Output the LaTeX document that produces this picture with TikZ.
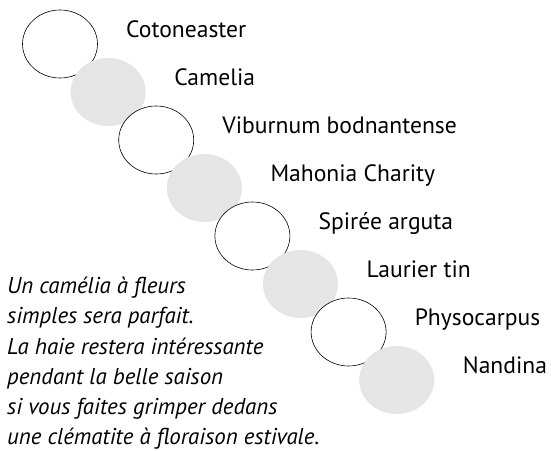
\documentclass[tikz,border=0pt]{standalone}
\usepackage{fontspec}
\setmainfont{PT Sans}
\usetikzlibrary{positioning}
\tikzset{
  haie/.style={draw=black, line width=0.6pt, fill=white},
  haiegris/.style={fill=gray!20},
  plante/.style={font=\fontsize{23.6}{28}\selectfont, inner sep=0pt, anchor=base west},
  conseil/.style={font=\itshape\fontsize{22.9}{30.2}\selectfont, align=left, inner sep=0pt, anchor=north west}
}
\begin{document}
\begin{tikzpicture}[x=1pt,y=-1pt]
\useasboundingbox (0,0) rectangle (551,450);
%\draw [help lines, step=10pt](0,0) grid (551,450);
\foreach \i/\nom in {0/Cotoneaster,1/Camelia,2/Viburnum bodnantense,3/Mahonia Charity,
  4/Spirée arguta,5/Laurier tin,6/Physocarpus,7/Nandina}{
  \pgfmathsetmacro\cx{60+48.1*\i}
  \pgfmathsetmacro\cy{44+48*\i}
  \ifodd\i
    \fill [haiegris] (\cx,\cy) ellipse [x radius=37.5pt, y radius=34pt];
  \else
    \draw [haie] (\cx,\cy) ellipse [x radius=37.5pt, y radius=34pt];
  \fi
  \node [plante] (plante\i) at (\cx+66,\cy-7) {\nom};
}
\node [conseil] (texte) at (7,277) {Un camélia à fleurs\\
simples sera parfait.\\
La haie restera intéressante\\
pendant la belle saison\\
si vous faites grimper dedans\\
une clématite à floraison estivale.};
\end{tikzpicture}
\end{document}
